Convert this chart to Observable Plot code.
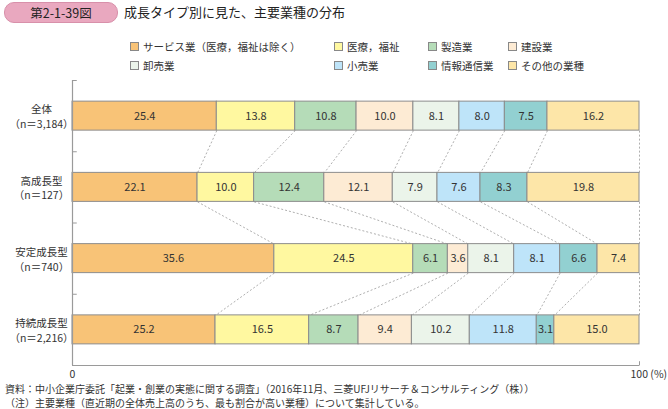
<!DOCTYPE html>
<html><head><meta charset="utf-8">
<script src="https://cdn.jsdelivr.net/npm/d3@7"></script>
<script src="https://cdn.jsdelivr.net/npm/@observablehq/plot@0.6"></script>
<style>
body{margin:0;background:#fff;font-family:"Noto Sans CJK JP","Noto Sans",sans-serif;color:#333;}
#wrap{position:relative;width:668px;height:409px;overflow:hidden;}
.abs{position:absolute;white-space:nowrap;}
#badge{left:4px;top:2px;width:112px;height:19px;background:#e9a8bf;border:1px solid #d890aa;border-radius:10px;font-size:12.5px;line-height:19px;text-align:center;color:#222;}
#title{left:124px;top:2px;font-size:13px;line-height:20px;color:#222;}
.leg{position:absolute;font-size:10.5px;line-height:14px;white-space:nowrap;color:#333;}
.leg span{display:inline-block;width:7px;height:7px;border:1px solid #888;margin-right:4px;vertical-align:0px;}
.foot{position:absolute;left:5px;font-size:10px;line-height:13px;white-space:nowrap;color:#333;}
#chart{position:absolute;left:0;top:75px;}
</style></head>
<body><div id="wrap">
<div id="badge" class="abs">第2-1-39図</div>
<div id="title" class="abs">成長タイプ別に見た、主要業種の分布</div>
<div id="legend"></div>
<div id="chart"></div>
<div class="foot" style="top:382px">資料：中小企業庁委託「起業・創業の実態に関する調査」（2016年11月、三菱UFJリサーチ＆コンサルティング（株））</div>
<div class="foot" style="top:396px">（注）主要業種（直近期の全体売上高のうち、最も割合が高い業種）について集計している。</div>
</div>
<script>
const categories = ["全体", "高成長型", "安定成長型", "持続成長型"];
const sampleSizes = ["（n＝3,184）", "（n＝127）", "（n＝740）", "（n＝2,216）"];
const industries = ["サービス業（医療，福祉は除く）", "医療，福祉", "製造業", "建設業", "卸売業", "小売業", "情報通信業", "その他の業種"];
const colors = ["#f8c377", "#fff8a0", "#b5dcb8", "#fdebd4", "#ebf4ea", "#bee4f9", "#92d0d1", "#fde6a8"];
const zentai = [25.4, 13.8, 10.8, 10.0, 8.1, 8.0, 7.5, 16.2];
const kouSeichou = [22.1, 10.0, 12.4, 12.1, 7.9, 7.6, 8.3, 19.8];
const anteiSeichou = [35.6, 24.5, 6.1, 3.6, 8.1, 8.1, 6.6, 7.4];
const jizokuSeichou = [25.2, 16.5, 8.7, 9.4, 10.2, 11.8, 3.1, 15.0];
const xTicks = [0, 100];

const rows = [zentai, kouSeichou, anteiSeichou, jizokuSeichou];

// legend (HTML)
const legPos = [[130,40],[334,40],[428,40],[508,40],[130,59],[334,59],[428,59],[508,59]];
const legDiv = document.getElementById("legend");
industries.forEach((name, k) => {
  const d = document.createElement("div");
  d.className = "leg";
  d.style.left = legPos[k][0] + "px";
  d.style.top = legPos[k][1] + "px";
  d.innerHTML = `<span style="background:${colors[k]}"></span>${name}`;
  legDiv.appendChild(d);
});

// build table
const segs = [];
const bounds = [];
rows.forEach((vals, i) => {
  const total = d3.sum(vals);
  let c = 0;
  const b = [0];
  vals.forEach((v, k) => {
    const x1 = c / total * 100;
    c += v;
    const x2 = c / total * 100;
    segs.push({row: i, k, ind: industries[k], value: v, x1, x2});
    b.push(x2);
  });
  bounds.push(b);
});
const h = 0.2035;
const links = [];
for (let i = 0; i < rows.length - 1; i++) {
  for (let k = 1; k <= industries.length; k++) {
    links.push({x1: bounds[i][k], y1: i + h, x2: bounds[i + 1][k], y2: i + 1 - h});
  }
}
const labels = categories.map((c, i) => ({row: i, text: c + "\n" + sampleSizes[i]}));
const bandEdges = [-0.5, 0.5, 1.5, 2.5];

const chart = Plot.plot({
  width: 668,
  height: 315,
  marginLeft: 72,
  marginRight: 29,
  marginTop: 5,
  marginBottom: 25,
  style: {fontFamily: '"Noto Sans CJK JP","Noto Sans",sans-serif', background: "transparent"},
  x: {domain: [0, 100], axis: null},
  y: {domain: [3.5, -0.5], axis: null},
  color: {domain: industries, range: colors},
  marks: [
    Plot.link(links, {x1: "x1", y1: "y1", x2: "x2", y2: "y2", stroke: "#9a9a9a", strokeWidth: 0.8, strokeDasharray: "2,2"}),
    Plot.rect(segs, {x1: "x1", x2: "x2", y1: d => d.row - h, y2: d => d.row + h, fill: "ind", stroke: "#8c8c8c", strokeWidth: 1}),
    Plot.text(segs, {x: d => (d.x1 + d.x2) / 2, y: "row", text: d => d.value.toFixed(1), fontSize: 11, fill: "#333"}),
    Plot.ruleX([0], {y1: -0.5, y2: 3.5, stroke: "#9a9a9a", strokeWidth: 1.2}),
    Plot.ruleY([3.5], {x1: 0, x2: 100, stroke: "#9a9a9a", strokeWidth: 1}),
    Plot.link(bandEdges, {x1: 0, x2: 0.75, y1: d => d, y2: d => d, stroke: "#9a9a9a", strokeWidth: 1}),
    Plot.link([100], {x1: d => d, x2: d => d, y1: 3.5, y2: 3.5 - 0.06, stroke: "#9a9a9a", strokeWidth: 1}),
    Plot.text(labels, {x: 0, y: "row", text: "text", dx: -31, textAnchor: "middle", fontSize: 10.5, lineHeight: 1.4, fill: "#333"}),
    Plot.text(xTicks, {x: d => d, y: 3.5, text: d => d === 100 ? "100 (%)" : "0", dy: 9, textAnchor: "middle", fontSize: 10.5, fill: "#333"})
  ]
});
document.getElementById("chart").appendChild(chart);
d3.select(chart).selectAll("text").filter(function(){return this.textContent === "100 (%)";}).attr("text-anchor", "start").attr("dx", -9);
</script>
</body></html>
